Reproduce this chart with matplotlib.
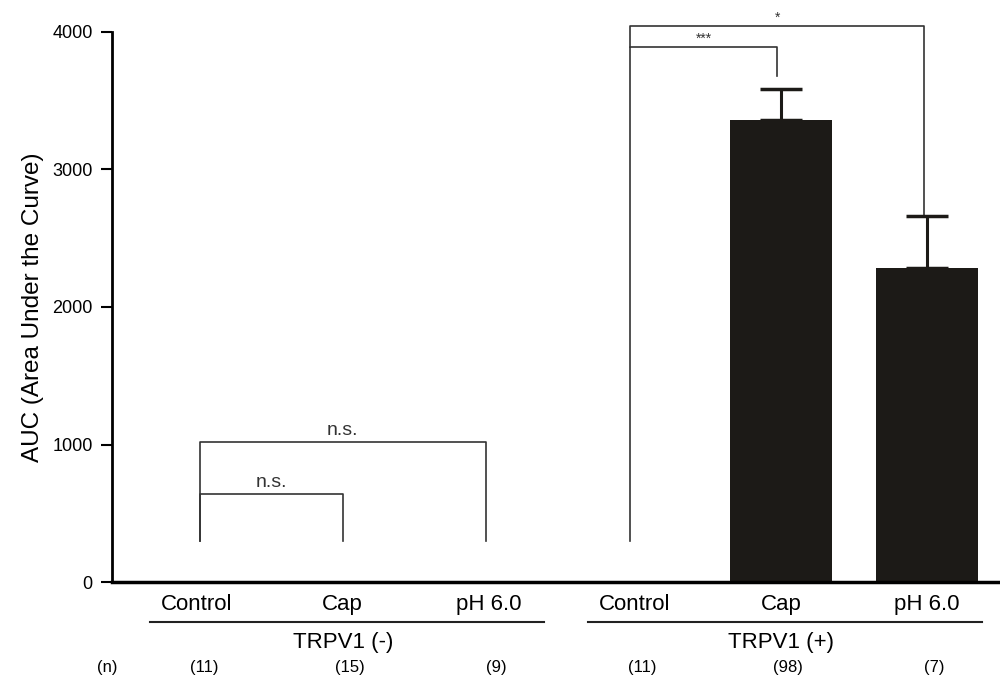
import matplotlib
matplotlib.use("Agg")
import matplotlib.pyplot as plt

plt.rcParams['font.family'] = ['Liberation Sans Narrow', 'Liberation Sans', 'DejaVu Sans']

categories = ["Control", "Cap", "pH 6.0", "Control", "Cap", "pH 6.0"]
groups = ["TRPV1 (-)", "TRPV1 (+)"]
values = [0, 0, 0, 0, 3360, 2280]
errors = [0, 0, 0, 0, 220, 380]
n_labels = ["(11)", "(15)", "(9)", "(11)", "(98)", "(7)"]
yticks = [0, 1000, 2000, 3000, 4000]

fig = plt.figure(figsize=(10, 6.89), dpi=100)
ax = fig.add_axes([0.112, 0.155, 0.888, 0.799])

x = list(range(len(categories)))
ax.bar(x, values, width=0.7, color="#1c1a17", zorder=2)
for xi, v, e in zip(x, values, errors):
    if e > 0:
        ax.errorbar(xi, v, yerr=[[0], [e]], fmt="none", ecolor="#1c1a17",
                    elinewidth=2.2, capsize=15, capthick=2.5, zorder=3)

ax.set_xlim(-0.58, 5.5)
ax.set_ylim(0, 4000)
ax.set_yticks(yticks)
ax.set_yticklabels([str(t) for t in yticks], fontsize=13)
ax.tick_params(axis='y', direction='out', length=8, width=1.5, pad=6)
ax.set_xticks([])
for s in ["top", "right"]:
    ax.spines[s].set_visible(False)
ax.spines["left"].set_linewidth(2)
ax.spines["bottom"].set_linewidth(2.5)
ax.set_ylabel("AUC (Area Under the Curve)", fontsize=17.5, labelpad=6)

lc = "#333333"
def bracket(x1, x2, y, yl, yr, label, ly, fs):
    ax.plot([x1, x1, x2, x2], [yl, y, y, yr], color=lc, lw=1.2, clip_on=False)
    ax.text((x1 + x2) / 2, ly, label, ha="center", va="bottom", fontsize=fs,
            color="#333333")

bracket(0.02, 1.0, 640, 300, 300, "n.s.", 660, 14)
bracket(0.02, 1.98, 1020, 300, 300, "n.s.", 1040, 14)
bracket(2.97, 3.97, 3890, 300, 3680, "***", 3900, 10)
bracket(2.97, 4.98, 4040, 3890, 2660, "*", 4050, 10)

trans = ax.get_xaxis_transform()
for xi, c in zip(x, categories):
    ax.text(xi, -0.022, c, transform=trans, ha="center", va="top", fontsize=16)
ax.plot([-0.32, 2.38], [-0.072, -0.072], transform=trans, color="#222222",
        lw=1.5, clip_on=False)
ax.plot([2.68, 5.38], [-0.072, -0.072], transform=trans, color="#222222",
        lw=1.5, clip_on=False)
ax.text(1.0, -0.09, groups[0], transform=trans, ha="center", va="top", fontsize=16)
ax.text(4.0, -0.09, groups[1], transform=trans, ha="center", va="top", fontsize=16)
ax.text(-0.61, -0.142, "(n)", transform=trans, ha="center", va="top", fontsize=12)
for xi, nl in zip(x, n_labels):
    ax.text(xi + 0.05, -0.142, nl, transform=trans, ha="center", va="top", fontsize=12)

fig.savefig("out.png", dpi=100)
